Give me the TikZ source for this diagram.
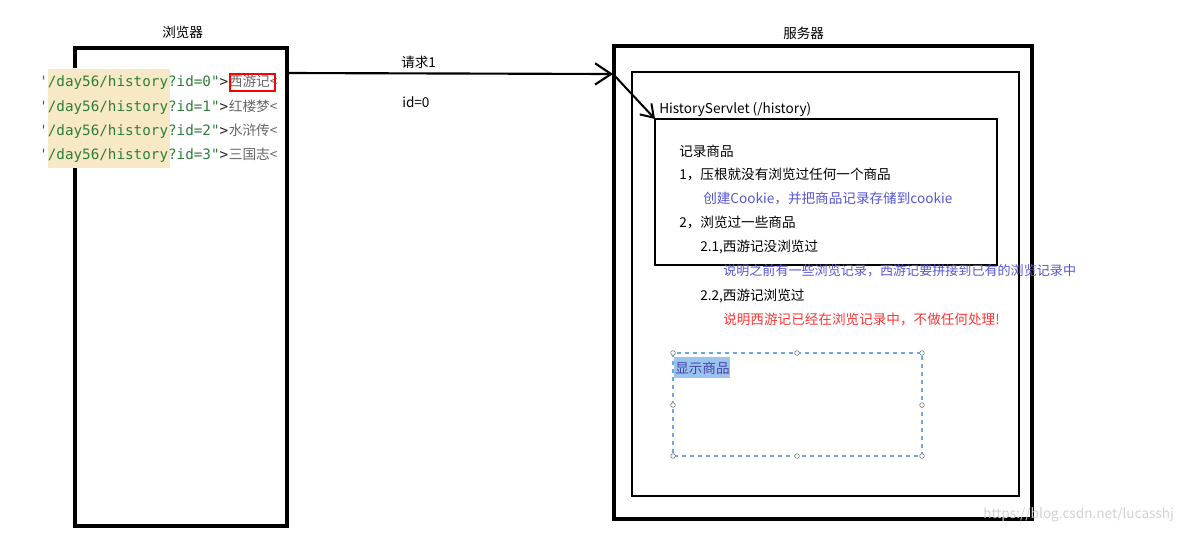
\documentclass[tikz,border=0pt]{standalone}
\usepackage{fontspec}
\setmainfont{Noto Sans CJK SC}
\newfontfamily\codefont{DejaVu Sans Mono}
\newfontfamily\cjkfont{Noto Sans CJK SC}
\usetikzlibrary{arrows.meta}
\definecolor{codegreen}{HTML}{2E7D3A}
\definecolor{hlbeige}{HTML}{F7E8C6}
\definecolor{noteblue}{HTML}{5555D5}
\definecolor{notered}{HTML}{FF3333}
\definecolor{dashblue}{HTML}{6FA8DC}
\definecolor{hlblue}{HTML}{9CC3EE}
\tikzset{
  bigbox/.style={draw=black, line width=2.3pt},
  midbox/.style={draw=black, line width=1.5pt},
  txt/.style={anchor=base west, inner sep=0pt, font=\fontsize{10.2}{12}\selectfont},
  codetxt/.style={anchor=base west, inner sep=0pt, font=\codefont\fontsize{10.7}{12}\selectfont, text=codegreen},
  handle/.style={draw=gray, fill=white, line width=0.5pt, circle, inner sep=0pt, minimum size=3.5pt},
  reqarrow/.style={line width=1.6pt, -{Straight Barb[length=12pt,width=16pt,line width=1.6pt]}},
}
\begin{document}
\begin{tikzpicture}[x=0.75pt,y=-0.75pt]
\useasboundingbox (0,0) rectangle (1198,533);
% titles
\node[txt] (btitle) at (162,37) {浏览器};
\node[txt] (stitle) at (783,38) {服务器};
% browser box
\draw[bigbox] (75,48) rectangle (287,526);
\coordinate (bout) at (287,73);
% code lines
\fill[white] (30,68) rectangle (283,168);
\fill[hlbeige] (48,69) rectangle (170,168);
\begin{scope}
\clip (30,55) rectangle (282,170);
\foreach \i/\y/\t in {0/86/西游记,1/111/红楼梦,2/135/水浒传,3/159/三国志}{
  \node[codetxt] (code\i) at (39,\y) {'/day56/history?id=\i"\textcolor{black!85}{>}};
  \node[anchor=base west, inner sep=0pt, font=\cjkfont\fontsize{10.3}{12}\selectfont, text=black!60] (cn\i) at (code\i.base east) {\t<};
}
\end{scope}
\draw[red, line width=1.4pt] (230,74) rectangle (275,91);
% request labels
\node[txt] (req) at (401,67) {请求1};
\node[txt] (idl) at (402,107) {id=0};
% server boxes
\draw[bigbox] (614,46) rectangle (1032,519);
\draw[midbox] (632,72) rectangle (1019,496);
\coordinate (sin) at (613,74);
\node[txt] (hs) at (659,113) {HistoryServlet (/history)};
\draw[midbox] (655,119) rectangle (997,265);
\coordinate (servlet) at (655,119);
% arrows
\draw[reqarrow] (bout) -- (sin);
\draw[line width=1.5pt, -{Straight Barb[length=9pt,width=12pt,line width=1.5pt]}] (sin) -- (servlet);
% servlet text
\node[txt] (t1) at (679,156) {记录商品};
\node[txt] (t2) at (679,179) {1，压根就没有浏览过任何一个商品};
\node[txt, text=noteblue] (t3) at (703,203) {创建Cookie，并把商品记录存储到cookie};
\node[txt] (t4) at (679,227) {2，浏览过一些商品};
\node[txt] (t5) at (700,251) {2.1,西游记没浏览过};
\node[txt, text=noteblue, font=\fontsize{9.8}{12}\selectfont] (t6) at (723,275) {说明之前有一些浏览记录，西游记要拼接到已有的浏览记录中};
\node[txt] (t7) at (700,300) {2.2,西游记浏览过};
\node[txt, text=notered] (t8) at (723,324) {说明西游记已经在浏览记录中，不做任何处理!};
% display box
\fill[hlblue] (674,357) rectangle (730,378);
\node[txt, text=noteblue!80!black] (show) at (675,373) {显示商品};
\draw[dashblue, dashed, line width=0.8pt] (673,353) rectangle (922,456);
\foreach \p in {(673,353),(797,353),(922,353),(673,405),(922,405),(673,456),(797,456),(922,456)}{
  \node[handle] at \p {};
}
% watermark
\node[txt, text=black!18] (wm) at (983,518) {https://blog.csdn.net/lucasshj};
\end{tikzpicture}
\end{document}
